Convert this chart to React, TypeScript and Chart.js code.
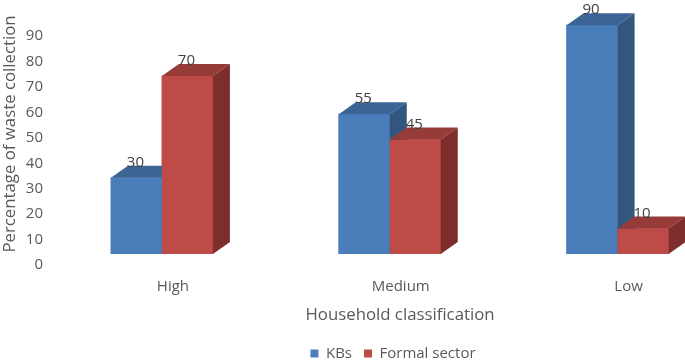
import React, { useEffect, useRef } from "react";
import { Chart, registerables } from "chart.js";

Chart.register(...registerables);

const CATEGORIES = ["High", "Medium", "Low"];
const KBS = [30, 55, 90];
const FORMAL = [70, 45, 10];
const Y_TICKS = [0, 10, 20, 30, 40, 50, 60, 70, 80, 90];
const SERIES_NAMES = ["KBs", "Formal sector"];

const FRONT = ["#4A7EBB", "#BE4B48"];
const TOP = ["#3C6596", "#963B38"];
const SIDE = ["#33567F", "#7D2E2C"];
const DX = 17;
const DY = 12;
const FONT = "'Open Sans', Lato, sans-serif";
const CANVAS_W = 752;

const bar3d = {
  id: "bar3d",
  afterLayout(chart: any) {
    const lg = chart.legend;
    if (lg) {
      lg.left -= 7;
      lg.right -= 7;
    }
  },
  afterDatasetsDraw(chart: any) {
    const ctx = chart.ctx;
    ctx.save();
    chart.data.datasets.forEach((ds: any, di: number) => {
      const meta = chart.getDatasetMeta(di);
      meta.data.forEach((el: any) => {
        const { x, y, base, width } = el.getProps(["x", "y", "base", "width"], true);
        const l = x - width / 2;
        const r = x + width / 2;
        ctx.fillStyle = FRONT[di];
        ctx.fillRect(l, y, r - l, base - y);
        ctx.fillStyle = TOP[di];
        ctx.beginPath();
        ctx.moveTo(l, y);
        ctx.lineTo(l + DX, y - DY);
        ctx.lineTo(r + DX, y - DY);
        ctx.lineTo(r, y);
        ctx.closePath();
        ctx.fill();
        ctx.fillStyle = SIDE[di];
        ctx.beginPath();
        ctx.moveTo(r, y);
        ctx.lineTo(r + DX, y - DY);
        ctx.lineTo(r + DX, base - DY);
        ctx.lineTo(r, base);
        ctx.closePath();
        ctx.fill();
      });
    });
    chart.data.datasets.forEach((ds: any, di: number) => {
      const meta = chart.getDatasetMeta(di);
      meta.data.forEach((el: any, i: number) => {
        const { x, y } = el.getProps(["x", "y"], true);
        ctx.fillStyle = "#404040";
        ctx.font = `15px ${FONT}`;
        ctx.textAlign = "center";
        ctx.textBaseline = "alphabetic";
        ctx.fillText(String(ds.data[i].y), x - 1, y - DY + 1);
      });
    });
    ctx.restore();
  },
};

export default function App() {
  const ref = useRef<HTMLCanvasElement | null>(null);
  useEffect(() => {
    if (!ref.current) return;
    const chart = new Chart(ref.current, {
      type: "bar",
      data: {
        datasets: [
          {
            label: SERIES_NAMES[0],
            data: CATEGORIES.map((_, i) => ({ x: i, y: KBS[i] })),
            backgroundColor: FRONT[0],
            barThickness: 51,
          },
          {
            label: SERIES_NAMES[1],
            data: CATEGORIES.map((_, i) => ({ x: i, y: FORMAL[i] })),
            backgroundColor: FRONT[1],
            barThickness: 51,
          },
        ],
      },
      options: {
        animation: false,
        responsive: false,
        layout: { padding: { top: 0, left: 0, right: 0, bottom: 0 } },
        plugins: {
          tooltip: { enabled: false },
          legend: {
            position: "bottom",
            fullSize: false,
            maxHeight: 26,
            labels: {
              boxWidth: 8,
              boxHeight: 8,
              padding: 12,
              color: "#595959",
              font: { family: FONT, size: 15 },
            },
          },
        },
        scales: {
          x: {
            type: "linear",
            offset: false,
            min: -0.5,
            max: 2.59,
            grid: { display: false, drawTicks: false },
            border: { display: false },
            afterBuildTicks: (s: any) => {
              s.ticks = CATEGORIES.map((_, i) => ({ value: i }));
            },
            afterFit: (s: any) => {
              s.height = 80;
            },
            ticks: {
              callback: (v: any) => CATEGORIES[v as number],
              color: "#595959",
              font: { family: FONT, size: 15 },
              padding: 24,
              labelOffset: 11,
              maxRotation: 0,
            },
            title: {
              display: true,
              text: "Household classification",
              color: "#595959",
              font: { family: FONT, size: 16.8 },
              padding: { top: 0, bottom: 9 },
            },
          },
          y: {
            min: 0,
            max: 94.4,
            grid: { display: false, drawTicks: false },
            border: { display: false },
            afterBuildTicks: (s: any) => {
              s.ticks = Y_TICKS.map((v) => ({ value: v }));
            },
            afterFit: (s: any) => {
              s.width = 48;
            },
            ticks: {
              color: "#595959",
              font: { family: FONT, size: 15 },
              padding: 5,
              labelOffset: 11,
            },
            title: {
              display: true,
              text: "Percentage of waste collection",
              color: "#595959",
              font: { family: FONT, size: 16.8 },
              padding: { top: 0, bottom: 0 },
            },
          },
        },
      },
      plugins: [bar3d],
    });
    return () => chart.destroy();
  }, []);
  return (
    <div style={{ position: "absolute", left: 0, top: 0, width: 685, height: 360, overflow: "hidden" }}>
      <canvas ref={ref} width={CANVAS_W} height={360} style={{ display: "block" }} />
    </div>
  );
}
